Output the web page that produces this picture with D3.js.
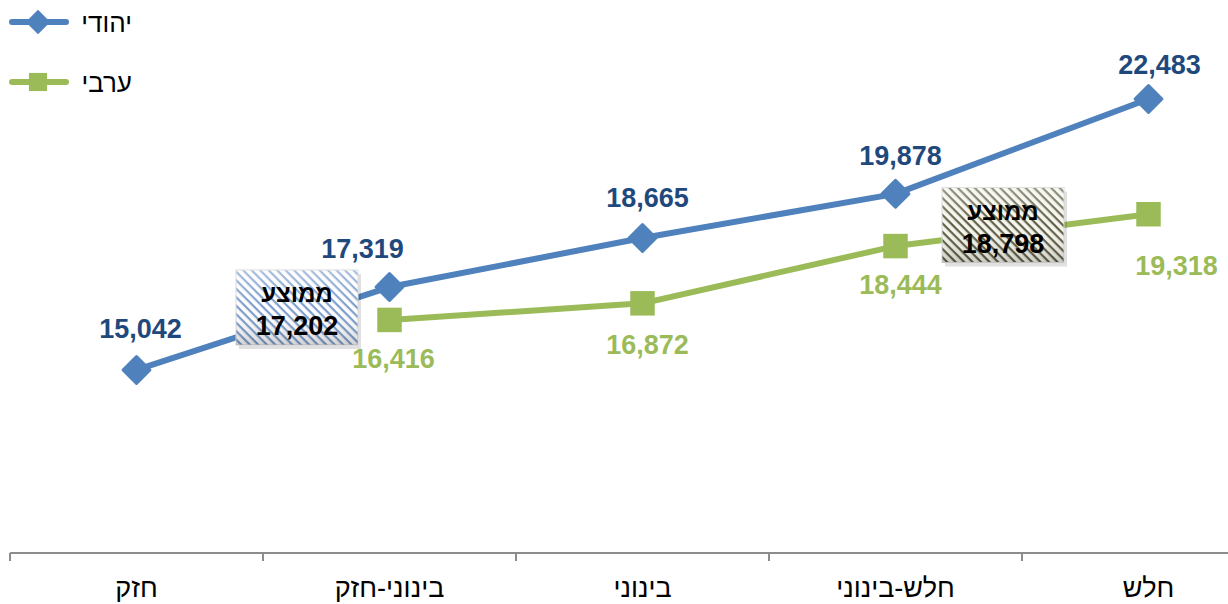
<!DOCTYPE html>
<html>
<head>
<meta charset="utf-8">
<script src="https://cdn.jsdelivr.net/npm/d3@7"></script>
<style>
  body { margin: 0; background: #fff; }
  svg { display: block; font-family: "Liberation Sans", Arial, "DejaVu Sans", sans-serif; }
</style>
</head>
<body>
<svg id="chart" width="1228" height="604"></svg>
<script>
// data
const categories = ['חזק', 'בינוני-חזק', 'בינוני', 'חלש-בינוני', 'חלש'];
const jewish = [15042, 17319, 18665, 19878, 22483];
const arab = [null, 16416, 16872, 18444, 19318];
const seriesNames = ['יהודי', 'ערבי'];
const averages = [17202, 18798];

const W = 1228, H = 604;
const svg = d3.select('#chart');
const defs = svg.append('defs');

const x = d3.scalePoint().domain(categories).range([136.5, 1148.5]);
const step = x.step();
const y = d3.scaleLinear().domain([10000, 25000]).range([553.6, 7.3]);

const BLUE = '#4f81bd', GREEN = '#9bbb59', DARKBLUE = '#1f497d';

// hatch patterns for the average boxes
function hatch(id, color, bg) {
  const p = defs.append('pattern').attr('id', id)
    .attr('patternUnits', 'userSpaceOnUse')
    .attr('width', 6).attr('height', 6)
    .attr('patternTransform', 'rotate(45)');
  p.append('rect').attr('width', 6).attr('height', 6).attr('fill', bg);
  p.append('rect').attr('width', 6).attr('height', 2.2).attr('fill', color);
  return `url(#${id})`;
}
const hatchBlue = hatch('hb', '#7b9ccc', '#ffffff');
const hatchOlive = hatch('ho', '#5e5e44', '#f6f6ee');

const shade = defs.append('linearGradient').attr('id', 'shade')
  .attr('x1', 0).attr('x2', 0).attr('y1', 0).attr('y2', 1);
shade.append('stop').attr('offset', 0).attr('stop-color', '#fff').attr('stop-opacity', 0.35);
shade.append('stop').attr('offset', 0.5).attr('stop-color', '#fff').attr('stop-opacity', 0);
shade.append('stop').attr('offset', 1).attr('stop-color', '#000').attr('stop-opacity', 0.18);

// axis
const axisY = 553;
svg.append('line').attr('x1', x(categories[0]) - step / 2).attr('x2', W)
  .attr('y1', axisY).attr('y2', axisY)
  .attr('stroke', '#8c8c8c').attr('stroke-width', 2);
svg.selectAll('line.tick').data(d3.range(categories.length)).join('line')
  .attr('class', 'tick')
  .attr('x1', i => x(categories[0]) - step / 2 + i * step)
  .attr('x2', i => x(categories[0]) - step / 2 + i * step)
  .attr('y1', axisY).attr('y2', axisY + 8)
  .attr('stroke', '#8c8c8c').attr('stroke-width', 2);
svg.selectAll('text.cat').data(categories).join('text')
  .attr('class', 'cat')
  .attr('x', d => x(d)).attr('y', 597)
  .attr('text-anchor', 'middle')
  .attr('font-size', 27).attr('fill', '#000')
  .text(d => d);

// lines
const line = d3.line().defined(d => d.v != null).x(d => x(d.c)).y(d => y(d.v));
const jData = categories.map((c, i) => ({c, v: jewish[i]}));
const aData = categories.map((c, i) => ({c, v: arab[i]}));

svg.append('path').datum(jData).attr('d', line)
  .attr('fill', 'none').attr('stroke', BLUE).attr('stroke-width', 6)
  .attr('stroke-linejoin', 'round').attr('stroke-linecap', 'round');
svg.append('path').datum(aData).attr('d', line)
  .attr('fill', 'none').attr('stroke', GREEN).attr('stroke-width', 6)
  .attr('stroke-linejoin', 'round');

const diamond = d3.symbol().type(d3.symbolDiamond2).size(460);
const square = d3.symbol().type(d3.symbolSquare).size(600);

svg.selectAll('path.jm').data(jData).join('path')
  .attr('class', 'jm')
  .attr('d', diamond)
  .attr('transform', d => `translate(${x(d.c)},${y(d.v)})`)
  .attr('fill', BLUE).attr('stroke', BLUE).attr('stroke-width', 3).attr('stroke-linejoin', 'round');
svg.selectAll('path.am').data(aData.filter(d => d.v != null)).join('path')
  .attr('class', 'am')
  .attr('d', square)
  .attr('transform', d => `translate(${x(d.c)},${y(d.v)})`)
  .attr('fill', GREEN);

// value labels
const fmt = d3.format(',');
const jOff = [[4, -32], [-27, -29], [5, -31], [5, -29], [11, -25]];
const aOff = [null, [4, 48], [5, 51], [5, 48], [28, 61]];
svg.selectAll('text.jl').data(jData).join('text')
  .attr('class', 'jl')
  .attr('x', (d, i) => x(d.c) + jOff[i][0]).attr('y', (d, i) => y(d.v) + jOff[i][1])
  .attr('text-anchor', 'middle').attr('font-size', 27).attr('font-weight', 'bold')
  .attr('fill', DARKBLUE).text(d => fmt(d.v));
svg.selectAll('text.al').data(aData.filter(d => d.v != null)).join('text')
  .attr('class', 'al')
  .attr('x', d => x(d.c) + aOff[categories.indexOf(d.c)][0])
  .attr('y', d => y(d.v) + aOff[categories.indexOf(d.c)][1])
  .attr('text-anchor', 'middle').attr('font-size', 27).attr('font-weight', 'bold')
  .attr('fill', GREEN).text(d => fmt(d.v));

// average boxes
const boxes = [
  {v: averages[0], cx: x(categories[0]) + 160.5, cy: 307.5, fill: hatchBlue},
  {v: averages[1], cx: x(categories[3]) + 107.5, cy: 225, fill: hatchOlive}
];
const bw = 122, bh = 75;
const bg = svg.selectAll('g.avg').data(boxes).join('g')
  .attr('class', 'avg')
  .attr('transform', d => `translate(${d.cx - bw / 2},${d.cy - bh / 2})`);
bg.append('rect').attr('x', 3).attr('y', 4).attr('width', bw).attr('height', bh)
  .attr('fill', '#000').attr('opacity', 0.12);
bg.append('rect').attr('width', bw).attr('height', bh).attr('fill', d => d.fill)
  .attr('stroke', '#d8d8d8').attr('stroke-width', 1);
bg.append('rect').attr('width', bw).attr('height', bh).attr('fill', 'url(#shade)');
bg.append('text').attr('x', bw / 2).attr('y', 32).attr('text-anchor', 'middle')
  .attr('font-size', 24).attr('font-weight', 'bold').attr('fill', '#000').text('ממוצע');
bg.append('text').attr('x', bw / 2).attr('y', 65).attr('text-anchor', 'middle')
  .attr('font-size', 27).attr('font-weight', 'bold').attr('fill', '#000').text(d => fmt(d.v));

// legend
const legend = [
  {name: seriesNames[0], color: BLUE, y: 22},
  {name: seriesNames[1], color: GREEN, y: 82}
];
const lg = svg.selectAll('g.leg').data(legend).join('g').attr('class', 'leg');
lg.append('line').attr('x1', 12).attr('x2', 66).attr('y1', d => d.y).attr('y2', d => d.y)
  .attr('stroke', d => d.color).attr('stroke-width', 6).attr('stroke-linecap', 'round');
lg.append('path').attr('d', (d, i) => i === 0 ? d3.symbol().type(d3.symbolDiamond2).size(380)() : d3.symbol().type(d3.symbolSquare).size(330)())
  .attr('transform', d => `translate(38,${d.y})`).attr('fill', d => d.color);
lg.append('text').attr('x', 132).attr('y', d => d.y + 10).attr('text-anchor', 'end')
  .attr('font-size', 26).attr('fill', '#000').text(d => d.name);
</script>
</body>
</html>
